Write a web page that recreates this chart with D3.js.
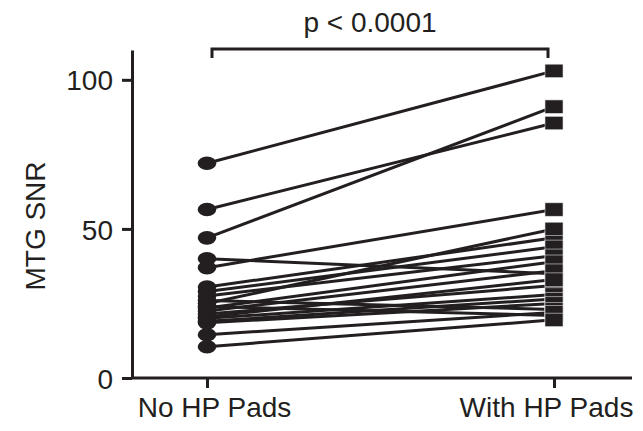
<!DOCTYPE html>
<html>
<head>
<meta charset="utf-8">
<script src="https://cdn.jsdelivr.net/npm/d3@7"></script>
<style>
  body { margin: 0; background: #fff; }
  svg text { font-family: "Liberation Sans", Arial, sans-serif; fill: #231f20; }
</style>
</head>
<body>
<svg id="chart" width="643" height="431"></svg>
<script>
// groups on the x axis
const groups = ["No HP Pads", "With HP Pads"];
// paired SNR values per subject
const noPads   = [72, 56.5, 47, 40, 37, 30.5, 29, 25, 27.5, 23.5, 22.5, 21.5, 20.5, 20, 19, 18.5, 26, 24, 14.5, 10.5];
const withPads = [103, 85.5, 91, 35, 56.5, 47, 44, 50, 41, 39, 36, 31, 33, 28, 26.5, 25, 23, 21, 22, 19.5];
const yTicks = [0, 50, 100];
const pLabel = "p < 0.0001";
const yLabel = "MTG SNR";

const ink = "#231f20";
const svg = d3.select("#chart");

const x = d3.scalePoint().domain(groups).range([207, 554]);
const y = d3.scaleLinear().domain([0, 110]).range([378, 50]);

const subjects = noPads.map((v, i) => ({ a: v, b: withPads[i] }));

// y axis
const yAxis = svg.append("g")
  .attr("transform", "translate(132,0)")
  .call(d3.axisLeft(y).tickValues(yTicks).tickSize(10).tickSizeOuter(0).tickPadding(9));

// x axis
const xAxis = svg.append("g")
  .attr("transform", "translate(0,378)")
  .call(d3.axisBottom(x).tickSize(10).tickSizeOuter(0).tickPadding(9));
xAxis.select(".domain").attr("d", "M132,0H632");

[yAxis, xAxis].forEach(g => {
  g.select(".domain").attr("stroke", ink).attr("stroke-width", 3);
  g.selectAll(".tick line").attr("stroke", ink).attr("stroke-width", 3);
  g.selectAll(".tick text").attr("font-size", 28).attr("fill", ink)
    .attr("font-family", "Liberation Sans, Arial, sans-serif");
});
yAxis.selectAll(".tick text").attr("dy", "0.36em");
// labels sit a bit off their ticks in the original
xAxis.selectAll(".tick text").attr("dy", "0.71em").attr("dx", (d, i) => i === 0 ? 7 : -8);

// y label
svg.append("text")
  .attr("transform", `translate(45,${(y(0) + y(110)) / 2 + 12}) rotate(-90)`)
  .attr("text-anchor", "middle")
  .attr("font-size", 28)
  .text(yLabel);

// paired lines
svg.append("g").selectAll("line")
  .data(subjects)
  .join("line")
  .attr("x1", x(groups[0]))
  .attr("x2", x(groups[1]))
  .attr("y1", d => y(d.a))
  .attr("y2", d => y(d.b))
  .attr("stroke", ink)
  .attr("stroke-width", 3);

// circles (no pads)
svg.append("g").selectAll("ellipse")
  .data(subjects)
  .join("ellipse")
  .attr("cx", x(groups[0]))
  .attr("cy", d => y(d.a))
  .attr("rx", 9.3)
  .attr("ry", 6.8)
  .attr("fill", ink);

// squares (with pads)
svg.append("g").selectAll("rect")
  .data(subjects)
  .join("rect")
  .attr("x", x(groups[1]) - 9)
  .attr("y", d => y(d.b) - 6.7)
  .attr("width", 18)
  .attr("height", 13.4)
  .attr("fill", ink)
  .attr("stroke", "#ddd")
  .attr("stroke-width", 0.6);

// significance bracket
const bx0 = x(groups[0]) + 5, bx1 = x(groups[1]) - 6;
svg.append("path")
  .attr("d", `M${bx0},58V49H${bx1}V58`)
  .attr("fill", "none")
  .attr("stroke", ink)
  .attr("stroke-width", 3);

svg.append("text")
  .attr("x", 370)
  .attr("y", 32)
  .attr("text-anchor", "middle")
  .attr("font-size", 28)
  .text(pLabel);
</script>
</body>
</html>
